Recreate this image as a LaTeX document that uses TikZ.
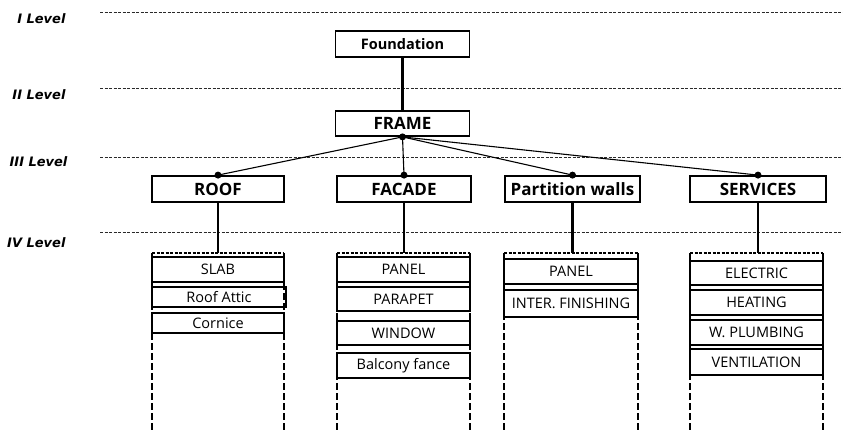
\documentclass[tikz,border=0pt]{standalone}
\usepackage{fontspec}
\setmainfont{Open Sans}
\newfontfamily\levelfont{DejaVu Sans}
\usepackage{xcolor}
\definecolor{chartink}{HTML}{000000}
\definecolor{chartmuted}{HTML}{2A2A2A}

\begin{document}
\begin{tikzpicture}[x=1pt, y=-1pt,
                    every node/.style={chartink},
                    headbox/.style={draw, line width=1.8pt, minimum width=134pt,
                      minimum height=26pt, inner sep=0pt,
                      font=\fontsize{17}{17}\selectfont\bfseries},
                    itembox/.style={draw, line width=1.8pt, minimum width=133pt,
                      minimum height=25pt, inner sep=0pt,
                      font=\fontsize{14.5}{15}\selectfont},
                    levelline/.style={chartmuted, line width=0.7pt, dash pattern=on 3pt off 1.5pt},
                    levellabel/.style={anchor=east, font=\levelfont\fontsize{13}{13}\selectfont\bfseries\itshape},
                    thickline/.style={chartink, line width=2.8pt},
                    thinline/.style={chartink, line width=1.1pt},
                    groupedge/.style={chartink, line width=1.8pt, dash pattern=on 7pt off 3pt},
                    joint/.style={circle, fill=chartink, inner sep=0pt, minimum size=7pt}]

  \useasboundingbox (0,0) rectangle (843,431);

  %% 每一組的虛線外框: 下方開口，上緣中點記作 #1
  \newcommand{\groupframe}[3]{%
    \coordinate (#1) at ({(#2+#3)/2},253);
    \draw[groupedge, dash pattern=on 3pt off 1.5pt] (#2,253) -- (#3,253);
    \draw[groupedge] (#2,253) -- (#2,431);
    \draw[groupedge] (#3,253) -- (#3,431);
  }

  %% ---- 層級虛線與左側標籤 ----
  \draw[levelline] (100,12) -- (843,12);
  \draw[levelline] (100,88) -- (843,88);
  \draw[levelline] (100,157) -- (843,157);
  \draw[levelline] (100,232) -- (843,232);
  \node[levellabel] (lvlone) at (69,19) {I Level};
  \node[levellabel] (lvltwo) at (69,95) {II Level};
  \node[levellabel] (lvlthree) at (71,162) {III Level};
  \node[levellabel] (lvlfour) at (69,243) {IV Level};

  %% ---- 上兩層 ----
  \node[headbox, font=\fontsize{14.5}{15}\selectfont\bfseries] (found) at (402.5,44) {Foundation};
  \node[headbox, minimum height=25pt] (frame) at (402.5,123.5) {FRAME};
  \draw[thickline] (found.south) -- (frame.north);

  %% ---- 第三層 ----
  \node[headbox, minimum width=132pt] (roof) at (218,189) {ROOF};
  \node[headbox] (facade) at (404,189) {FACADE};
  \node[headbox, minimum width=135pt] (partition) at (572.5,189) {Partition walls};
  \node[headbox, minimum width=136pt] (services) at (758,189) {SERVICES};

  \node[joint] (framejoint) at (frame.south) {};
  \node[joint] (roofjoint) at (roof.north) {};
  \node[joint] (facadejoint) at (facade.north) {};
  \node[joint] (partitionjoint) at (partition.north) {};
  \node[joint] (servicesjoint) at (services.north) {};
  \draw[thinline] (framejoint.center) -- (roofjoint.center);
  \draw[thinline] (framejoint.center) -- (facadejoint.center);
  \draw[thinline] (framejoint.center) -- (partitionjoint.center);
  \draw[thinline] (framejoint.center) -- (servicesjoint.center);

  %% ---- 第四層: 各組外框 ----
  \groupframe{roofgrp}{152}{284}
  \groupframe{facadegrp}{337}{470}
  \groupframe{partitiongrp}{504}{638}
  \groupframe{servicesgrp}{690}{823}
  \draw[thickline] (roof.south) -- (roof.south |- roofgrp);
  \draw[thickline] (facade.south) -- (facade.south |- facadegrp);
  \draw[thickline] (partition.south) -- (partition.south |- partitiongrp);
  \draw[thickline] (services.south) -- (services.south |- servicesgrp);

  %% ROOF
  \node[itembox, minimum width=132pt] (slab) at (218,269.5) {SLAB};
  \node[itembox, minimum width=134pt, minimum height=20pt] (attic) at (219,297) {Roof Attic};
  \node[itembox, minimum width=132pt, minimum height=20pt] (cornice) at (218,323) {Cornice};

  %% FACADE
  \node[itembox] (fpanel) at (403.5,269.5) {PANEL};
  \node[itembox, minimum height=24pt] (parapet) at (403.5,299) {PARAPET};
  \node[itembox, minimum height=24pt] (window) at (403.5,333) {WINDOW};
  \node[itembox] (balcony) at (403.5,365.5) {Balcony fance};

  %% Partition walls
  \node[itembox, minimum width=134pt] (ppanel) at (571,271.5) {PANEL};
  \node[itembox, minimum width=134pt, minimum height=27pt] (finishing) at (571,303.5) {INTER. FINISHING};

  %% SERVICES
  \node[itembox, minimum height=24pt] (electric) at (756.5,273) {ELECTRIC};
  \node[itembox] (heating) at (756.5,302.5) {HEATING};
  \node[itembox] (plumbing) at (756.5,332.5) {W. PLUMBING};
  \node[itembox, minimum height=26pt] (ventilation) at (756.5,362) {VENTILATION};

\end{tikzpicture}
\end{document}
